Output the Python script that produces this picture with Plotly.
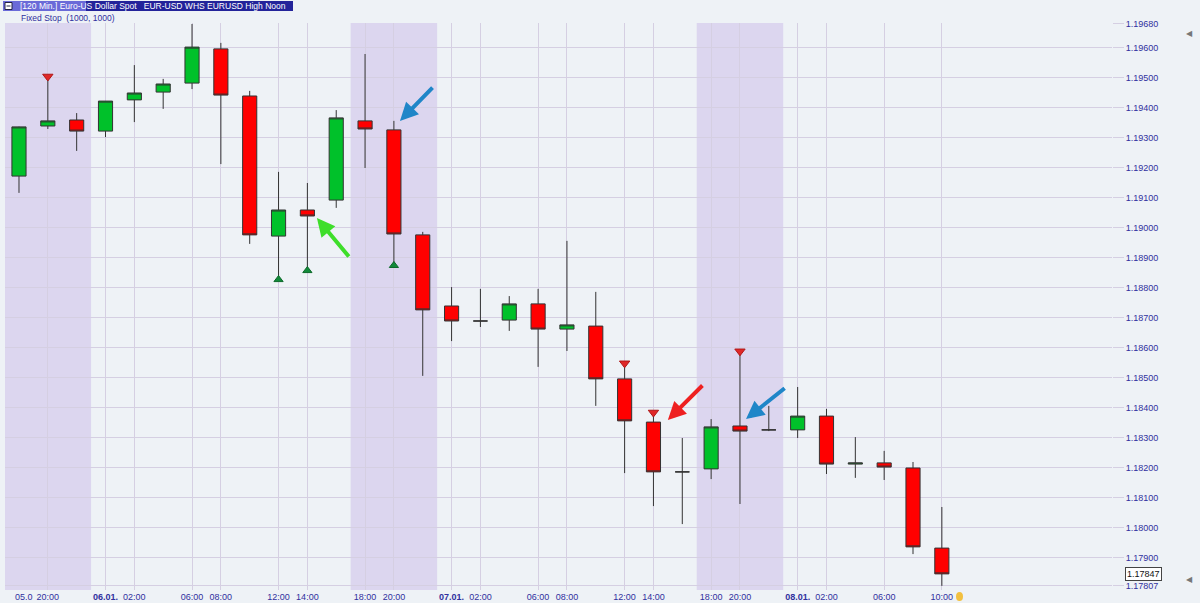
import plotly.graph_objects as go

# ---------------- data ----------------
times = ["05.01. 18:00", "05.01. 20:00", "05.01. 22:00",
         "06.01. 00:00", "06.01. 02:00", "06.01. 04:00", "06.01. 06:00", "06.01. 08:00",
         "06.01. 10:00", "06.01. 12:00", "06.01. 14:00", "06.01. 16:00", "06.01. 18:00",
         "06.01. 20:00", "06.01. 22:00",
         "07.01. 00:00", "07.01. 02:00", "07.01. 04:00", "07.01. 06:00", "07.01. 08:00",
         "07.01. 10:00", "07.01. 12:00", "07.01. 14:00", "07.01. 16:00", "07.01. 18:00",
         "07.01. 20:00", "07.01. 22:00",
         "08.01. 00:00", "08.01. 02:00", "08.01. 04:00", "08.01. 06:00", "08.01. 08:00",
         "08.01. 10:00"]

open_ = [1.19173, 1.19340, 1.19360, 1.19323, 1.19427, 1.19453, 1.19483, 1.19597,
         1.19440, 1.18973, 1.19060, 1.19093, 1.19357, 1.19327, 1.18977,
         1.18740, 1.18690, 1.18693, 1.18747, 1.18663, 1.18673, 1.18497, 1.18353,
         1.18187, 1.18197, 1.18340, 1.18327,
         1.18327, 1.18373, 1.18213, 1.18217, 1.18200, 1.17933]
high = [1.19338, 1.19503, 1.19383, 1.19423, 1.19543, 1.19497, 1.19680, 1.19617,
        1.19457, 1.19187, 1.19150, 1.19393, 1.19580, 1.19357, 1.18987,
        1.18803, 1.18797, 1.18773, 1.18797, 1.18957, 1.18787, 1.18547, 1.18383,
        1.18300, 1.18363, 1.18587, 1.18407,
        1.18470, 1.18397, 1.18303, 1.18257, 1.18220, 1.18070]
low = [1.19117, 1.19330, 1.19257, 1.19303, 1.19353, 1.19397, 1.19463, 1.19213,
       1.18947, 1.18830, 1.18860, 1.19067, 1.19200, 1.18877, 1.18507,
       1.18623, 1.18670, 1.18657, 1.18537, 1.18590, 1.18407, 1.18183, 1.18073,
       1.18013, 1.18163, 1.18080, 1.18323,
       1.18300, 1.18180, 1.18167, 1.18160, 1.17913, 1.17807]
close = [1.19337, 1.19357, 1.19323, 1.19423, 1.19450, 1.19480, 1.19603, 1.19443,
         1.18977, 1.19060, 1.19040, 1.19367, 1.19330, 1.18980, 1.18727,
         1.18690, 1.18690, 1.18747, 1.18663, 1.18677, 1.18497, 1.18357, 1.18187,
         1.18187, 1.18337, 1.18323, 1.18327,
         1.18373, 1.18213, 1.18217, 1.18203, 1.17937, 1.17847]

# signals (bar indices)
short_signals = [1, 21, 22, 25]
long_signals = [9, 10, 13]

# session shading (bar index ranges, inclusive)
sessions = [(0, 2), (12, 14), (24, 26)]

# x-axis tick labels (bar index -> label)
tick_idx = [1, 3, 4, 6, 7, 9, 10, 12, 13, 15, 16, 18, 19, 21, 22, 24, 25, 27, 28, 30, 32]
tick_txt = ["20:00", "<b>06.01.</b>", "02:00", "06:00", "08:00", "12:00", "14:00",
            "18:00", "20:00", "<b>07.01.</b>", "02:00", "06:00", "08:00", "12:00",
            "14:00", "18:00", "20:00", "<b>08.01.</b>", "02:00", "06:00", "10:00"]

# y-axis tick values
y_ticks = [1.17807, 1.17900, 1.18000, 1.18100, 1.18200, 1.18300, 1.18400, 1.18500,
           1.18600, 1.18700, 1.18800, 1.18900, 1.19000, 1.19100, 1.19200, 1.19300,
           1.19400, 1.19500, 1.19600, 1.19680]

# hand-drawn arrows: (tail bar, tail price, head bar, head price, colour)
arrows = [(11.48, 1.18900, 10.33, 1.19033, "#3ede2a"),
          (14.39, 1.19473, 13.21, 1.19357, "#1f86c8"),
          (23.75, 1.18480, 22.50, 1.18360, "#ee2020"),
          (26.60, 1.18470, 25.21, 1.18363, "#1f86c8")]

x = list(range(len(times)))

# ---------------- layout geometry ----------------
W, H = 1200, 603
PL, PR, PT, PB = 5, 1112, 23, 590
FONT = "Arial, Liberation Sans, sans-serif"


def px_x(p):
    return (p - PL) / (PR - PL)


def px_y(p):
    return (PB - p) / (PB - PT)


NAVY = "#30309e"
GRID = "#d5cfe2"
BG = "#eef2f6"

fig = go.Figure()

fig.add_trace(go.Candlestick(
    x=x, open=open_, high=high, low=low, close=close,
    increasing=dict(fillcolor="#00c12a", line=dict(color="#333333", width=1)),
    decreasing=dict(fillcolor="#ff0000", line=dict(color="#333333", width=1)),
    whiskerwidth=0, showlegend=False, hoverinfo="skip",
))

fig.add_trace(go.Scatter(
    x=short_signals, y=[high[i] + 0.00002 for i in short_signals],
    mode="markers",
    marker=dict(symbol="triangle-down", size=9, color="#e02828",
                line=dict(color="#b01818", width=1)),
    showlegend=False, hoverinfo="skip",
))
fig.add_trace(go.Scatter(
    x=long_signals, y=[low[i] - 0.00002 for i in long_signals],
    mode="markers",
    marker=dict(symbol="triangle-up", size=8, color="#128a3a",
                line=dict(color="#0c6a2a", width=1)),
    showlegend=False, hoverinfo="skip",
))

shapes = []
for a, b in sessions:
    shapes.append(dict(type="rect", xref="x", yref="paper", x0=a - 0.5, x1=b + 0.5,
                       y0=0, y1=1, fillcolor="#dcd6ef", line=dict(width=0), layer="below"))

# header bar
shapes.append(dict(type="rect", xref="paper", yref="paper",
                   x0=px_x(3), x1=px_x(293), y0=px_y(11), y1=px_y(1),
                   fillcolor="#23239a", line=dict(width=0)))
shapes.append(dict(type="rect", xref="paper", yref="paper",
                   x0=px_x(3), x1=px_x(86), y0=px_y(11), y1=px_y(1),
                   fillcolor="#6a6ad8", line=dict(width=0)))
shapes.append(dict(type="rect", xref="paper", yref="paper",
                   x0=px_x(5), x1=px_x(12), y0=px_y(9.5), y1=px_y(2.5),
                   fillcolor="#ffffff", line=dict(color="#222244", width=1)))
shapes.append(dict(type="line", xref="paper", yref="paper",
                   x0=px_x(6.5), x1=px_x(10.5), y0=px_y(6), y1=px_y(6),
                   line=dict(color="#222244", width=1)))
# little yellow marker at the end of the time axis
shapes.append(dict(type="circle", xref="paper", yref="paper",
                   x0=px_x(956), x1=px_x(963), y0=px_y(601), y1=px_y(592),
                   fillcolor="#f2c040", line=dict(width=0)))

annotations = [
    dict(xref="paper", yref="paper", x=px_x(18), y=px_y(6), xanchor="left", yanchor="middle",
         text="[120 Min.] Euro-US Dollar Spot &nbsp; EUR-USD WHS EURUSD High Noon",
         showarrow=False, font=dict(color="white", size=8.5, family=FONT)),
    dict(xref="paper", yref="paper", x=px_x(19), y=px_y(17.5), xanchor="left", yanchor="middle",
         text="Fixed Stop &nbsp;(1000, 1000)",
         showarrow=False, font=dict(color=NAVY, size=8.5, family=FONT)),
    dict(xref="paper", yref="paper", x=px_x(35), y=px_y(597), xanchor="right", yanchor="middle",
         text="05.0", showarrow=False,
         font=dict(color=NAVY, size=9, family=FONT)),
    dict(xref="paper", yref="y", x=px_x(1125), y=close[-1], xanchor="left", yanchor="middle",
         text=f"{close[-1]:.5f}", showarrow=False, bgcolor="white", bordercolor="#444444",
         borderwidth=1, borderpad=1,
         font=dict(color="#111111", size=9, family=FONT)),
    dict(xref="paper", yref="paper", x=px_x(1195), y=px_y(25), text="◀", showarrow=False,
         font=dict(color="#777777", size=8)),
    dict(xref="paper", yref="paper", x=px_x(1195), y=px_y(586), text="◀", showarrow=False,
         font=dict(color="#777777", size=8)),
]

for tx, ty, hx, hy, col in arrows:
    annotations.append(dict(x=hx, y=hy, ax=tx, ay=ty, xref="x", yref="y", axref="x", ayref="y",
                            showarrow=True, arrowhead=2, arrowsize=0.9, arrowwidth=4,
                            arrowcolor=col, text=""))

fig.update_layout(
    width=W, height=H,
    margin=dict(l=PL, r=W - PR, t=PT, b=H - PB, autoexpand=False),
    paper_bgcolor=BG, plot_bgcolor=BG,
    shapes=shapes, annotations=annotations,
    xaxis=dict(range=[-0.485, 37.9], tickmode="array", tickvals=tick_idx, ticktext=tick_txt,
               showgrid=True, gridcolor=GRID, gridwidth=1, zeroline=False, showline=False,
               ticks="", automargin=False,
               tickfont=dict(color=NAVY, size=9, family=FONT),
               rangeslider=dict(visible=False), fixedrange=True),
    yaxis=dict(range=[1.177933, 1.196833], side="right", tickmode="array",
               tickvals=y_ticks, ticktext=[f"{v:.5f}" for v in y_ticks], automargin=False,
               showgrid=True, gridcolor=GRID, gridwidth=1, zeroline=False, showline=False,
               ticks="outside", ticklen=11, tickcolor=GRID,
               tickfont=dict(color=NAVY, size=9, family=FONT)),
    showlegend=False,
)

fig.write_html("out.html", config={"displayModeBar": False},
               post_script="document.body.style.margin='0px';document.body.style.overflow='hidden';")
